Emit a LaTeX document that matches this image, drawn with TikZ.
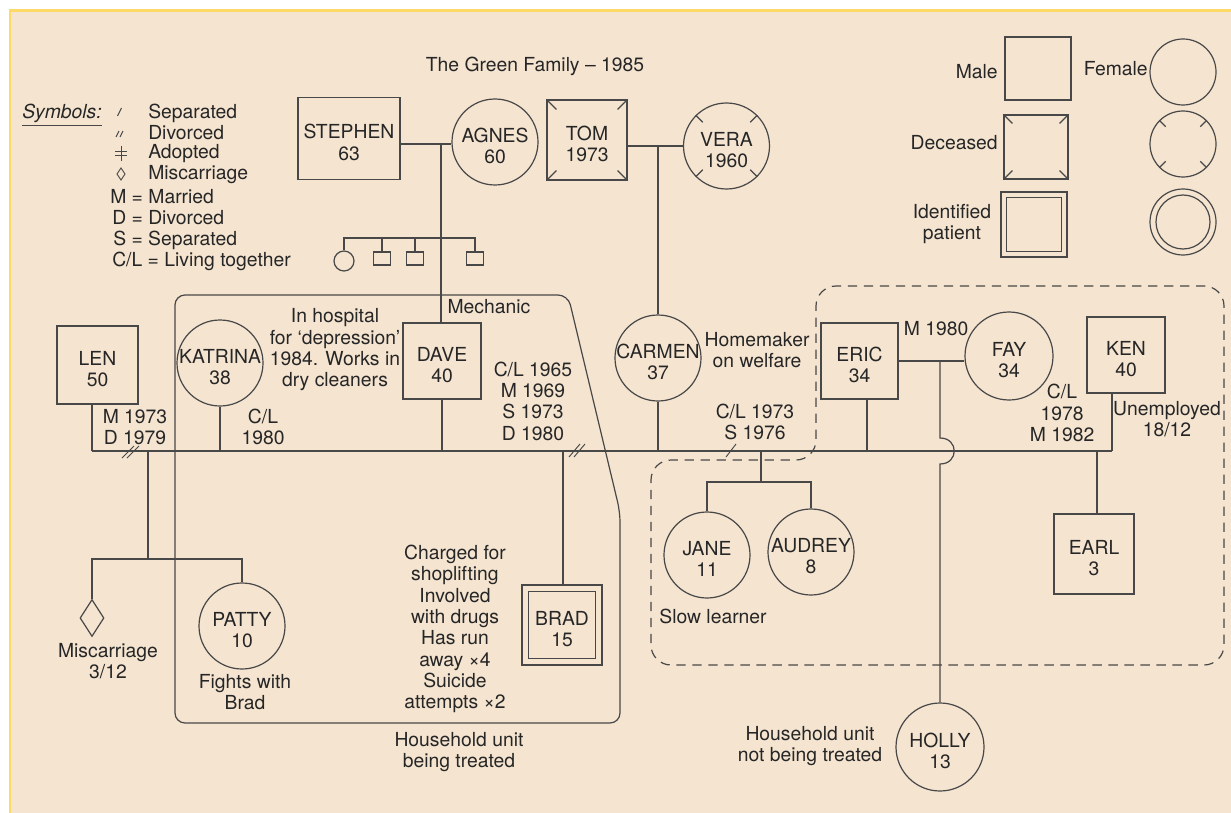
\documentclass[tikz,border=0pt]{standalone}
\usepackage{fontspec}
\setmainfont{TeX Gyre Heros}
\usetikzlibrary{shapes.geometric,calc}

\definecolor{paper}{HTML}{F4E4D0}
\definecolor{rim}{HTML}{FFD966}
\definecolor{ink}{HTML}{262626}
\definecolor{linecol}{HTML}{484848}

\begin{document}
\begin{tikzpicture}[x=0.75pt,y=-0.75pt,
  every node/.style={font=\fontsize{14.5}{16}\selectfont, text=ink, inner sep=0pt, align=center},
  link/.style={draw=linecol, line width=0.9pt},
  male/.style={link, rectangle, minimum width=58.5pt, minimum height=57pt},
  female/.style={link, circle, minimum size=64.5pt},
  who/.style={label={[yshift=-3pt]center:#1}},
  house/.style={link, rounded corners=7.5pt},
  away/.style={link, dash pattern=on 7pt off 5pt, rounded corners=15pt},
]
\useasboundingbox (0,0) rectangle (1231,813);
% page and frame
\fill[white] (0,0) rectangle (1231,813);
\fill[paper] (10,10) rectangle (1231,813);
\draw[rim, line width=2pt] (10,813) -- (10,10.5) -- (1231,10.5);

% title
\node (title) at (535,66) {The Green Family – 1985};

% ---------- symbol key ----------
\node (symhead) at (62,113) {\textit{Symbols:}};
\draw[link, line width=0.7pt] ([yshift=-2.5pt]symhead.south west) -- ([yshift=-2.5pt]symhead.south east);
\node[anchor=west] (ksep) at (148,113) {Separated};
\node[anchor=west] (kdiv) at (148,133) {Divorced};
\node[anchor=west] (kadop) at (148,154) {Adopted};
\node[anchor=west] (kmis) at (148,175) {Miscarriage};
\node[anchor=west] (kmar) at (110,197) {M = Married};
\node[anchor=west] (kdv) at (112,218) {D = Divorced};
\node[anchor=west] (ksp) at (113,240) {S = Separated};
\node[anchor=west] (kcl) at (112,261) {C/L = Living together};
\draw[link, line width=0.7pt] (117.5,116) -- (121.5,108);
\draw[link, line width=0.7pt] (116,137) -- (119,131) (120,137) -- (123,131);
\draw[link, line width=0.7pt] (121,146) -- (121,161) (115,151.5) -- (127,151.5) (115,155) -- (127,155);
\draw[link, line width=0.7pt] (121,168) -- (125,174) -- (121,180) -- (117,174) -- cycle;

% ---------- shape key ----------
\node[male, minimum width=49.5pt, minimum height=47.25pt] (lmale) at (1038,68.5) {};
\node[anchor=east] (tmale) at (998,72) {Male};
\node[female, minimum size=49.5pt] (lfemale) at (1183,72) {};
\node[anchor=east] (tfemale) at (1148,69) {Female};
\node[male, minimum size=48pt] (ldm) at (1036,147) {};
\node[female, minimum size=49.5pt] (ldf) at (1183,144) {};
\node[anchor=east] (tdec) at (998,143) {Deceased};
\node[male, minimum width=49.5pt, minimum height=48.75pt] (lipm) at (1034,224.5) {};
\draw[link] ([shift={(4.5pt,-4.5pt)}]lipm.north west) rectangle ([shift={(-4.5pt,4.5pt)}]lipm.south east);
\node[female, minimum size=49.5pt] (lipf) at (1183,222) {};
\draw[link] (lipf.center) circle[radius=20.25pt];
\node (tip) at (952,224) {Identified\\patient};

% ---------- household outlines ----------
\draw[house] (300,295) -- (568,295) -- (620,512) -- (620,723) -- (175,723) -- (175,295) -- cycle;
\draw[away] (1000,286) -- (1224,286) -- (1224,665) -- (651,665) -- (651,460) -- (816,460) -- (816,286) -- cycle;

% ---------- people ----------
\node[male, minimum width=76.5pt, minimum height=61.5pt, who={STEPHEN\\63}] (stephen) at (349,138.5) {};
\node[female, who={AGNES\\60}] (agnes) at (495,142) {};
\node[male, minimum size=60pt, who={TOM\\1973}] (tom) at (587,140) {};
\node[female, who={VERA\\1960}] (vera) at (726.5,146) {};

\node[female, minimum size=15pt] (sib1) at (344,261) {};
\node[male, minimum width=12.75pt, minimum height=9.75pt] (sib2) at (382,258.5) {};
\node[male, minimum width=12.75pt, minimum height=9.75pt] (sib3) at (415,258.5) {};
\node[male, minimum width=12.75pt, minimum height=9.75pt] (sib4) at (475,258.5) {};

\node[male, minimum width=60.75pt, minimum height=58.5pt, who={LEN\\50}] (len) at (97.5,365) {};
\node[female, who={KATRINA\\38}] (katrina) at (220,363) {};
\node[male, who={DAVE\\40}] (dave) at (442,361) {};
\node[female, who={CARMEN\\37}] (carmen) at (658,358) {};
\node[male, minimum width=57.75pt, who={ERIC\\34}] (eric) at (859.5,361) {};
\node[female, minimum size=66pt, who={FAY\\34}] (fay) at (1009,356) {};
\node[male, who={KEN\\40}] (ken) at (1126,355) {};

\node[diamond, link, minimum width=18pt, minimum height=27.75pt] (misc) at (92,618) {};
\node[female, who={PATTY\\10}] (patty) at (242,626) {};
\node[male, minimum size=60pt, who={BRAD\\15}] (brad) at (562,625) {};
\draw[link] ([shift={(5.25pt,-5.25pt)}]brad.north west) rectangle ([shift={(-5.25pt,5.25pt)}]brad.south east);
\node[female, who={JANE\\11}] (jane) at (707,555) {};
\node[female, who={AUDREY\\8}] (audrey) at (811,552) {};
\node[male, minimum size=60pt, who={EARL\\3}] (earl) at (1094,554) {};
\node[female, minimum size=66pt, who={HOLLY\\13}] (holly) at (940,747) {};

% deceased marks
\foreach \n/\d in {tom/10,ldm/9}{
  \draw[link] (\n.north west) -- ++(\d,\d);
  \draw[link] (\n.north east) -- ++(-\d,\d);
  \draw[link] (\n.south west) -- ++(\d,-\d);
  \draw[link] (\n.south east) -- ++(-\d,-\d);
}
\foreach \n/\f in {vera/0.23,ldf/0.27}{
  \foreach \a in {45,135,225,315}
    \draw[link] (\n.\a) -- ($(\n.\a)!\f!(\n.center)$);
}

% ---------- relationship lines ----------
\coordinate (sa) at (441,144);
\coordinate (sibbar) at (441,238);
\coordinate (tv) at (658,146);
\coordinate (mL) at (92,451);
\coordinate (mR) at (1112,451);
\coordinate (lk) at (148,451);
\coordinate (lkbar) at (148,559);
\coordinate (dc) at (563,451);
\coordinate (ce) at (761,451);
\coordinate (cebar) at (761,482);
\coordinate (ericx) at (867,451);
\coordinate (earlx) at (1097,451);
\coordinate (ef) at (940,361);
\coordinate (hop) at (940,451);

% grandparents
\draw[link] (stephen.east |- sa) -- (agnes.west |- sa);
\draw[link] (sa) -- (sa |- dave.north);
\draw[link] (sib1.north) -- (sib1.north |- sibbar) -- (sib4.north |- sibbar) -- (sib4.north);
\draw[link] (sib2.north |- sibbar) -- (sib2.north);
\draw[link] (sib3.north |- sibbar) -- (sib3.north);
\draw[link] (tom.east |- tv) -- (vera.west |- tv);
\draw[link] (tv) -- (carmen.north);

% main partnership line
\draw[link] (mL) -- (mR);
\draw[link] (mL |- len.south) -- (mL);
\draw[link] (katrina.south) -- (katrina.south |- mL);
\draw[link] (dave.south) -- (dave.south |- mL);
\draw[link] (carmen.south) -- (carmen.south |- mL);
\draw[link] (ericx |- eric.south) -- (ericx);
\draw[link] (mR |- ken.south) -- (mR);

% children
\draw[link] (lk) -- (lkbar);
\draw[link] (misc.north) -- (misc.north |- lkbar) -- (patty.north |- lkbar) -- (patty.north);
\draw[link] (dc) -- (dc |- brad.north);
\draw[link] (ce) -- (cebar);
\draw[link] (jane.north) -- (jane.north |- cebar) -- (audrey.north |- cebar) -- (audrey.north);
\draw[link] (earlx) -- (earlx |- earl.north);
\draw[link] (eric.east |- ef) -- (fay.west |- ef);
\draw[link] (ef) -- ($(hop)+(0,-13)$) .. controls ($(hop)+(19,-13)$) and ($(hop)+(19,13)$) .. ($(hop)+(0,13)$) -- (holly.north);

% separation and divorce marks
\draw[link, line width=0.7pt] (122,458) -- (134,446) (127,458) -- (139,446);
\draw[link, line width=0.7pt] (569,457) -- (580,444) (574,457) -- (585,444);
\draw[link, line width=0.7pt] (726,457) -- (736,444);

% ---------- notes ----------
\node (tlen) at (135,427) {M 1973\\D 1979};
\node (tkl) at (263,427) {C/L\\1980};
\node (tkat) at (335,350) {In hospital\\for ‘depression’\\1984. Works in\\dry cleaners};
\node (tmech) at (489,307) {Mechanic};
\node (tdc) at (533,401) {C/L 1965\\M 1969\\S 1973\\D 1980};
\node (tcar) at (757,350) {Homemaker\\on welfare};
\node (tce) at (755,422) {C/L 1973\\S 1976};
\node (tef) at (936,329) {M 1980};
\node (tfk) at (1062,413) {C/L\\1978\\M 1982};
\node (tken) at (1167,419) {Unemployed\\18/12};
\node (tjane) at (713,616) {Slow learner};
\node (thol) at (810,746) {Household unit\\not being treated};
\node (tunit) at (459,752) {Household unit\\being treated};
\node (tbrad) at (455,629) {Charged for\\shoplifting\\Involved\\with drugs\\Has run\\away ×4\\Suicide\\attempts ×2};
\node (tmisc) at (108,661) {Miscarriage\\3/12};
\node (tpatty) at (245,692) {Fights with\\Brad};
\end{tikzpicture}
\end{document}
